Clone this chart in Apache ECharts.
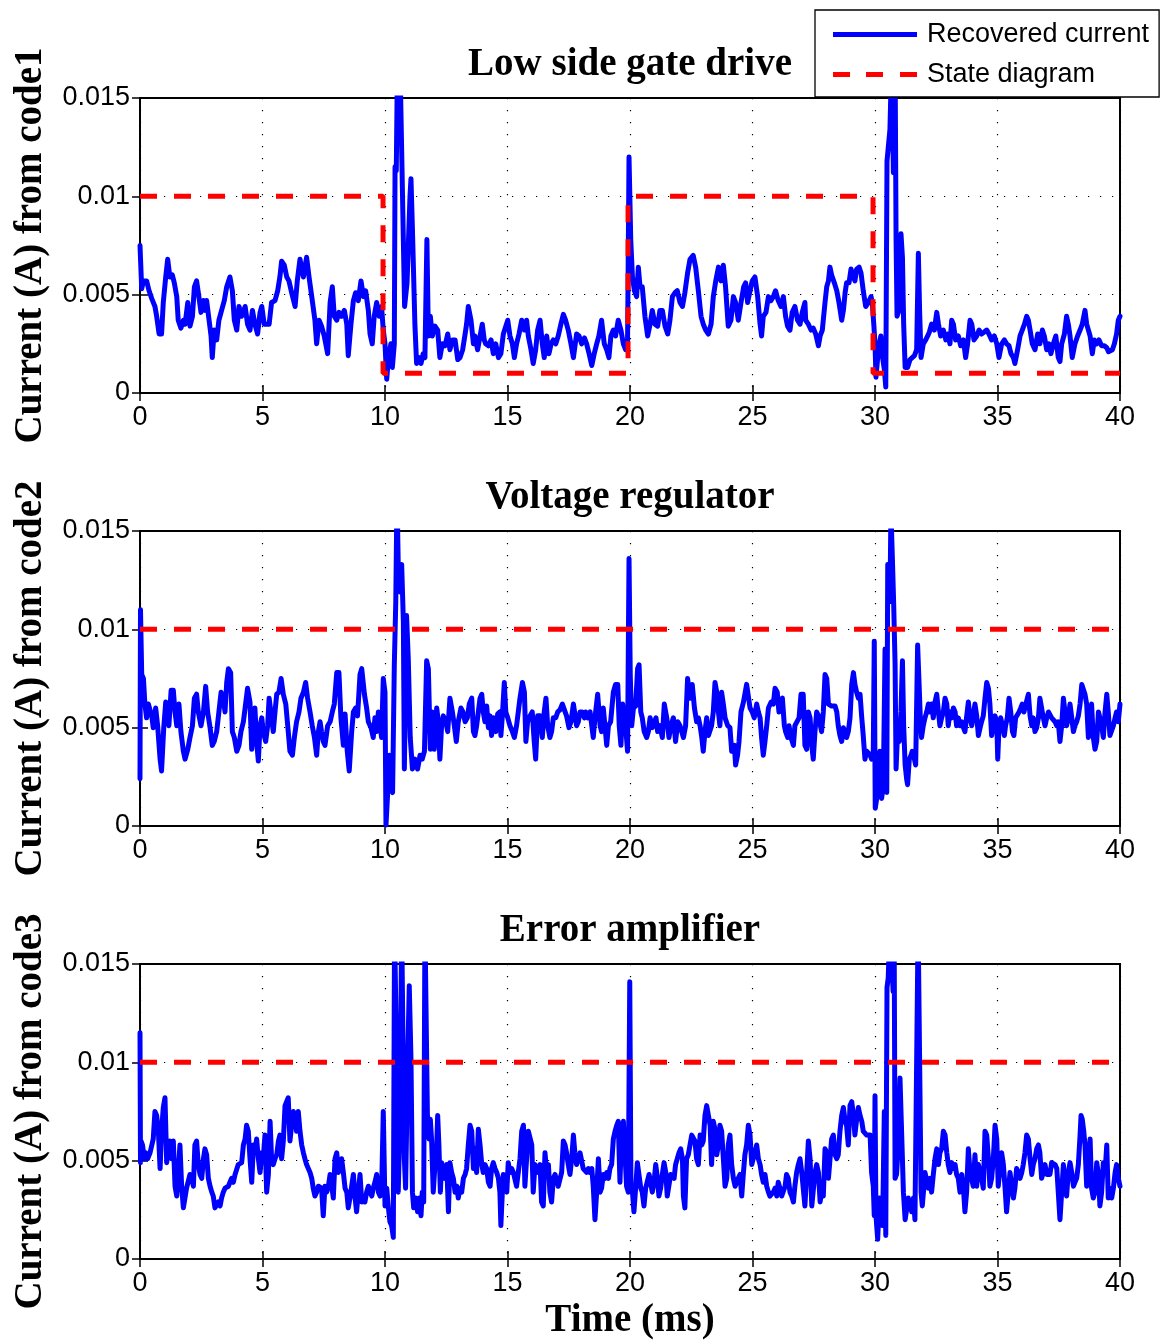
<!DOCTYPE html>
<html>
<head>
<meta charset="utf-8">
<script src="https://cdn.jsdelivr.net/npm/echarts/dist/echarts.min.js"></script>
<style>
  html, body { margin: 0; padding: 0; background: #ffffff; }
  #chart { width: 1166px; height: 1340px; }
</style>
</head>
<body>
<div id="chart"></div>
<script>
// Panel titles and axis labels
const panelTitles = ['Low side gate drive', 'Voltage regulator', 'Error amplifier'];
const currentAxisNames = ['Current (A) from code1', 'Current (A) from code2', 'Current (A) from code3'];
const timeAxisName = 'Time (ms)';
const seriesNames = ['Recovered current', 'State diagram'];

// Axis ranges (ms, A)
const timeRange = [0, 40];
const timeStep = 5;
const currentRange = [0, 0.015];
const currentStep = 0.005;

// Expected on/off state of each circuit block, [time ms, current A]
const stateCode1 = [[0, 0.01], [9.92, 0.01], [9.92, 0.001], [19.92, 0.001], [19.92, 0.01], [29.92, 0.01], [29.92, 0.001], [40, 0.001]];
const stateCode2 = [[0, 0.01], [40, 0.01]];
const stateCode3 = [[0, 0.01], [40, 0.01]];

// Recovered current, code 1 (low side gate drive), [time ms, current A]
const recoveredCode1 = [
[0,.0075],[.07,.0053],[.14,.0057],[.27,.0057],[.37,.0052],[.48,.0048],[.61,.0044],[.68,.0039],[.78,.0030],[.88,.0030],[.95,.0046],[1.05,.0059],[1.13,.0068],[1.22,.0059],[1.32,.0060],[1.40,.0056],[1.50,.0049],[1.56,.0037],[1.67,.0033],[1.77,.0037],[1.84,.0035],[1.95,.0046],[2.04,.0034],[2.14,.0039],[2.22,.0054],[2.31,.0057],[2.38,.0051],[2.49,.0041],[2.59,.0047],[2.65,.0042],[2.72,.0047],[2.82,.0037],[2.90,.0029],[2.95,.0018],[3.03,.0032],[3.13,.0027],[3.22,.0037],[3.33,.0042],[3.44,.0047],[3.54,.0054],[3.67,.0059],[3.77,.0052],[3.85,.0037],[3.95,.0032],[4.04,.0044],[4.15,.0039],[4.29,.0044],[4.39,.0035],[4.49,.0032],[4.59,.0042],[4.69,.0035],[4.80,.0030],[4.90,.0041],[4.97,.0044],[5.07,.0035],[5.17,.0035],[5.27,.0035],[5.37,.0046],[5.51,.0047],[5.62,.0052],[5.71,.0059],[5.78,.0067],[5.89,.0065],[5.99,.0059],[6.08,.0057],[6.19,.0051],[6.33,.0044],[6.42,.0057],[6.53,.0068],[6.67,.0059],[6.80,.0069],[6.90,.0059],[7.01,.0049],[7.14,.0037],[7.21,.0025],[7.31,.0037],[7.41,.0034],[7.52,.0029],[7.66,.0020],[7.76,.0046],[7.85,.0054],[7.93,.0039],[8.03,.0037],[8.12,.0041],[8.23,.0039],[8.34,.0042],[8.44,.0035],[8.50,.0019],[8.61,.0035],[8.71,.0047],[8.80,.0051],[8.91,.0047],[9.02,.0057],[9.12,.0049],[9.21,.0052],[9.32,.0042],[9.39,.0030],[9.48,.0025],[9.56,.0039],[9.66,.0046],[9.76,.0039],[9.86,.0044],[9.93,.0032],[10.0,.0025],[10.07,.0007],[10.14,.0018],[10.24,.0025],[10.30,.0013],[10.38,.0025],[10.41,.0115],[10.46,.0113],[10.51,.017],[10.56,.0129],[10.61,.017],[10.67,.017],[10.80,.0044],[10.90,.0056],[11.02,.0100],[11.06,.0109],[11.12,.0083],[11.22,.0035],[11.29,.0015],[11.39,.0018],[11.47,.0015],[11.56,.0020],[11.63,.0018],[11.71,.0078],[11.77,.0029],[11.85,.0039],[11.93,.0029],[12.04,.0034],[12.15,.0032],[12.24,.0018],[12.34,.0025],[12.45,.0024],[12.56,.0030],[12.65,.0022],[12.75,.0027],[12.86,.0027],[12.97,.0017],[13.06,.0018],[13.17,.0022],[13.27,.0030],[13.33,.0035],[13.40,.0044],[13.51,.0037],[13.61,.0025],
[13.67,.0029],[13.78,.0022],[13.88,.0029],[13.97,.0035],[14.05,.0027],[14.11,.0025],[14.22,.0024],[14.33,.0027],[14.42,.0020],[14.52,.0025],[14.63,.0018],[14.73,.0020],[14.83,.0030],[14.90,.0029],[15.01,.0037],[15.10,.0029],[15.20,.0025],[15.28,.0018],[15.37,.0025],[15.47,.0030],[15.58,.0037],[15.69,.0032],[15.78,.0037],[15.85,.0029],[15.96,.0022],[16.05,.0015],[16.15,.0022],[16.23,.0032],[16.33,.0037],[16.42,.0025],[16.50,.0018],[16.60,.0029],[16.69,.0020],[16.78,.0025],[16.87,.0027],[16.97,.0025],[17.07,.0029],[17.18,.0035],[17.28,.0040],[17.37,.0037],[17.48,.0032],[17.59,.0025],[17.69,.0018],[17.82,.0030],[17.92,.0029],[18.03,.0025],[18.14,.0028],[18.23,.0025],[18.33,.0020],[18.44,.0014],[18.54,.0020],[18.64,.0025],[18.73,.0029],[18.84,.0037],[18.95,.0025],[19.05,.0022],[19.14,.0018],[19.22,.0029],[19.32,.0032],[19.41,.0029],[19.52,.0037],[19.63,.0032],[19.73,.0025],[19.82,.0022],[19.90,.0025],[19.96,.0120],[20.03,.0078],[20.10,.0059],[20.18,.0052],[20.27,.0049],[20.34,.0064],[20.41,.0054],[20.50,.0054],[20.61,.0039],[20.72,.0029],[20.82,.0035],[20.91,.0042],[21.02,.0035],[21.13,.0034],[21.22,.0042],[21.32,.0042],[21.43,.0034],[21.54,.0030],[21.63,.0037],[21.73,.0049],[21.84,.0051],[21.93,.0052],[22.04,.0046],[22.14,.0044],[22.24,.0051],[22.35,.0061],[22.45,.0068],[22.58,.0070],[22.68,.0064],[22.79,.0052],[22.90,.0039],[22.99,.0035],[23.09,.0032],[23.20,.0030],[23.31,.0035],[23.40,.0049],[23.50,.0057],[23.61,.0064],[23.71,.0057],[23.81,.0065],[23.90,.0054],[24.01,.0034],[24.12,.0037],[24.22,.0049],[24.31,.0046],[24.42,.0037],[24.53,.0046],[24.64,.0054],[24.72,.0056],[24.80,.0046],[24.90,.0052],[24.99,.0057],[25.10,.0059],[25.21,.0049],[25.31,.0035],[25.37,.0029],[25.44,.0039],[25.55,.0041],[25.65,.0049],[25.75,.0047],[25.85,.0049],[25.94,.0052],[26.05,.0047],[26.16,.0044],[26.26,.0049],[26.35,.0039],[26.43,.0034],[26.53,.0032],[26.62,.0041],[26.73,.0044],[26.84,.0037],[26.94,.0035],[27.03,.0041],[27.14,.0046],
[27.17,.0037],[27.28,.0035],[27.39,.0032],[27.48,.0033],[27.58,.0030],[27.69,.0024],[27.76,.0029],[27.85,.0032],[27.96,.0046],[28.03,.0054],[28.10,.0057],[28.16,.0064],[28.23,.0060],[28.34,.0056],[28.44,.0052],[28.53,.0046],[28.64,.0037],[28.71,.0042],[28.78,.0051],[28.84,.0056],[28.94,.0056],[29.02,.0063],[29.12,.0059],[29.18,.0057],[29.25,.0063],[29.35,.0064],[29.43,.0061],[29.52,.0052],[29.62,.0044],[29.73,.0046],[29.84,.0049],[29.89,.0046],[29.95,.0035],[30.00,.0025],[30.04,.0008],[30.11,.0018],[30.16,.0024],[30.24,.0029],[30.31,.0018],[30.38,.0012],[30.44,.0003],[30.49,.0118],[30.54,.0117],[30.61,.0134],[30.68,.017],[30.75,.0112],[30.82,.017],[30.86,.0078],[30.90,.0039],[30.98,.0042],[31.06,.0081],[31.12,.0069],[31.17,.0035],[31.23,.0013],[31.33,.0013],[31.43,.0017],[31.52,.0018],[31.61,.0019],[31.70,.0022],[31.77,.0071],[31.82,.0042],[31.88,.0018],[31.97,.0025],[32.07,.0027],[32.15,.0029],[32.22,.0031],[32.31,.0035],[32.42,.0032],[32.52,.0041],[32.59,.0035],[32.68,.0029],[32.79,.0032],[32.89,.0027],[32.97,.0030],[33.06,.0025],[33.13,.0037],[33.20,.0035],[33.29,.0027],[33.40,.0029],[33.50,.0024],[33.61,.0027],[33.70,.0018],[33.78,.0025],[33.88,.0037],[33.95,.0035],[34.04,.0027],[34.15,.0029],[34.25,.0032],[34.35,.0030],[34.46,.0031],[34.56,.0032],[34.65,.0030],[34.76,.0027],[34.87,.0029],[34.97,.0025],[35.06,.0018],[35.17,.0025],[35.28,.0027],[35.37,.0025],[35.47,.0024],[35.55,.0020],[35.65,.0018],[35.71,.0015],[35.82,.0022],[35.92,.0029],[36.01,.0032],[36.10,.0035],[36.19,.0039],[36.26,.0037],[36.33,.0032],[36.42,.0025],[36.53,.0022],[36.64,.0030],[36.73,.0025],[36.83,.0032],[36.91,.0029],[37.01,.0022],[37.10,.0025],[37.18,.0020],[37.28,.0025],[37.38,.0029],[37.48,.0018],[37.55,.0016],[37.62,.0025],[37.73,.0030],[37.82,.0039],[37.89,.0035],[37.96,.0029],[38.05,.0018],[38.16,.0025],[38.27,.0029],[38.37,.0032],[38.46,.0035],[38.57,.0042],[38.64,.0035],[38.71,.0034],[38.78,.0029],[38.87,.0020],[38.95,.0027],[39.05,.0025],[39.14,.0027],[39.25,.0024],[39.36,.0024],[39.46,.0023],[39.53,.0021],[39.61,.0020],[39.69,.0022],[39.77,.0025],[39.86,.0030],[39.93,.0037],[40,.0039]
];

// Recovered current, code 2 (voltage regulator)
const recoveredCode2 = [
[0,.0024],[0.02,.0110],[.07,.0077],[.14,.0075],[.20,.0062],[.27,.0055],[.34,.0062],[.41,.0061],[.48,.0056],[.54,.0050],[.64,.0060],[.72,.0051],[.82,.0034],[.88,.0028],[.97,.0050],[1.05,.0063],[1.13,.0062],[1.18,.0051],[1.27,.0069],[1.36,.0069],[1.43,.0058],[1.50,.0051],[1.59,.0062],[1.67,.0048],[1.77,.0038],[1.84,.0034],[1.95,.0039],[2.04,.0045],[2.14,.0051],[2.22,.0065],[2.31,.0067],[2.38,.0058],[2.49,.0051],[2.59,.0058],[2.68,.0071],[2.76,.0058],[2.86,.0050],[2.95,.0041],[3.03,.0043],[3.13,.0048],[3.22,.0058],[3.31,.0068],[3.40,.0065],[3.47,.0058],[3.54,.0073],[3.61,.0080],[3.70,.0078],[3.77,.0048],[3.85,.0045],[3.95,.0038],[4.04,.0041],[4.12,.0048],[4.22,.0053],[4.31,.0062],[4.39,.0070],[4.49,.0063],[4.56,.0039],[4.63,.0051],[4.69,.0060],[4.76,.0043],[4.83,.0033],[4.90,.0051],[4.97,.0055],[5.03,.0048],[5.13,.0043],[5.21,.0051],[5.27,.0065],[5.35,.0065],[5.44,.0048],[5.51,.0058],[5.58,.0067],[5.67,.0068],[5.76,.0075],[5.85,.0067],[5.95,.0062],[6.03,.0051],[6.12,.0038],[6.22,.0036],[6.30,.0045],[6.39,.0053],[6.49,.0058],[6.57,.0065],[6.67,.0068],[6.76,.0073],[6.84,.0065],[6.94,.0058],[7.03,.0051],[7.12,.0045],[7.21,.0036],[7.28,.0048],[7.35,.0053],[7.41,.0048],[7.48,.0043],[7.55,.0041],[7.66,.0051],[7.76,.0053],[7.85,.0058],[7.93,.0062],[8.03,.0078],[8.12,.0078],[8.20,.0055],[8.30,.0041],[8.37,.0057],[8.46,.0038],[8.54,.0028],[8.64,.0048],[8.71,.0058],[8.80,.0060],[8.88,.0056],[8.98,.0077],[9.05,.0080],[9.16,.0067],[9.25,.0060],[9.32,.0053],[9.43,.0050],[9.52,.0045],[9.59,.0055],[9.66,.0048],[9.73,.0058],[9.80,.0051],[9.86,.0045],[9.93,.0075],[10.00,.0068],[10.04,.00005],[10.11,.0017],[10.18,.0036],[10.24,.0019],[10.31,.0017],[10.38,.0082],[10.44,.0114],[10.49,.017],[10.54,.0133],[10.61,.0119],[10.68,.0133],[10.75,.0104],[10.79,.0029],[10.88,.0107],[10.95,.0085],[11.03,.0045],[11.12,.0029],[11.22,.0034],[11.33,.0029],[11.43,.0036],[11.52,.0034],[11.61,.0038],[11.70,.0084],[11.77,.0080],[11.85,.0039],[11.93,.0058],[12.01,.0039],[12.11,.0060],[12.18,.0053],[12.24,.0034],[12.31,.0051],[12.38,.0056],[12.48,.0053],[12.56,.0048],[12.65,.0065],[12.75,.0058],[12.83,.0051],[12.91,.0043],[12.99,.0053],[13.10,.0060],[13.18,.0058],[13.27,.0053],[13.36,.0055],[13.44,.0062],[13.54,.0065],[13.61,.0048],
[13.67,.0046],[13.74,.0051],[13.81,.0058],[13.88,.0065],[13.95,.0067],[14.01,.0058],[14.08,.0053],[14.15,.0061],[14.22,.0050],[14.29,.0056],[14.35,.0046],[14.42,.0055],[14.52,.0048],[14.60,.0057],[14.69,.0058],[14.73,.0046],[14.79,.0056],[14.87,.0073],[14.93,.0058],[15.01,.0055],[15.10,.0051],[15.20,.0048],[15.28,.0045],[15.37,.0051],[15.44,.0058],[15.51,.0065],[15.61,.0073],[15.69,.0068],[15.75,.0043],[15.82,.0053],[15.92,.0056],[16.01,.0058],[16.09,.0043],[16.15,.0034],[16.23,.0056],[16.33,.0056],[16.42,.0045],[16.50,.0058],[16.57,.0065],[16.64,.0051],[16.73,.0045],[16.80,.0048],[16.87,.0055],[16.97,.0055],[17.05,.0058],[17.14,.0059],[17.24,.0062],[17.32,.0063],[17.41,.0056],[17.51,.0050],[17.59,.0053],[17.69,.0062],[17.75,.0062],[17.82,.0051],[17.89,.0053],[17.96,.0058],[18.05,.0058],[18.14,.0055],[18.19,.0058],[18.27,.0055],[18.37,.0058],[18.44,.0051],[18.50,.0045],[18.57,.0055],[18.68,.0067],[18.78,.0051],[18.84,.0048],[18.91,.0060],[18.98,.0060],[19.05,.0041],[19.12,.0051],[19.21,.0053],[19.32,.0068],[19.41,.0072],[19.50,.0072],[19.56,.0051],[19.63,.0041],[19.70,.0062],[19.77,.0063],[19.82,.0051],[19.90,.0038],[19.96,.0136],[20.01,.0077],[20.07,.0051],[20.14,.0060],[20.23,.0061],[20.31,.0080],[20.37,.0082],[20.44,.0058],[20.50,.0055],[20.58,.0048],[20.68,.0045],[20.75,.0048],[20.82,.0055],[20.91,.0050],[20.99,.0051],[21.06,.0055],[21.13,.0048],[21.22,.0051],[21.32,.0045],[21.40,.0062],[21.50,.0055],[21.59,.0045],[21.67,.0051],[21.77,.0055],[21.86,.0043],[21.95,.0053],[22.04,.0051],[22.11,.0048],[22.18,.0045],[22.27,.0051],[22.35,.0075],[22.45,.0065],[22.54,.0072],[22.63,.0060],[22.72,.0053],[22.79,.0055],[22.86,.0051],[22.93,.0045],[22.99,.0038],[23.06,.0048],[23.13,.0055],[23.20,.0046],[23.26,.0045],[23.33,.0051],[23.40,.0058],[23.47,.0073],[23.54,.0068],[23.61,.0058],[23.67,.0051],[23.74,.0068],[23.81,.0062],[23.88,.0055],[23.99,.0051],[24.08,.0050],[24.15,.0038],[24.26,.0041],[24.31,.0031],[24.39,.0036],[24.45,.0043],[24.53,.0058],[24.63,.0063],[24.69,.0062],[24.76,.0072],[24.83,.0072],[24.90,.0060],[24.99,.0058],[25.07,.0055],[25.17,.0062],[25.24,.0058],[25.31,.0055],[25.37,.0045],[25.44,.0036],[25.51,.0043],[25.58,.0051],[25.65,.0060],[25.76,.0063],[25.85,.0062],[25.92,.0070],[26.01,.0068],[26.08,.0058],[26.16,.0063],[26.22,.0065],[26.30,.0051],[26.35,.0048],[26.44,.0045],[26.49,.0051],[26.57,.0045],[26.67,.0041],[26.73,.0051],[26.80,.0051],[26.90,.0055],[26.98,.0067],[27.07,.0067],[27.14,.0041],
[27.21,.0039],[27.28,.0058],[27.35,.0055],[27.42,.0041],[27.48,.0034],[27.55,.0048],[27.62,.0058],[27.69,.0056],[27.76,.0055],[27.82,.0048],[27.89,.0058],[27.96,.0077],[28.03,.0075],[28.10,.0062],[28.16,.0063],[28.23,.0061],[28.30,.0061],[28.37,.0061],[28.44,.0058],[28.50,.0051],[28.57,.0046],[28.64,.0043],[28.71,.0050],[28.78,.0050],[28.84,.0045],[28.91,.0048],[28.98,.0055],[29.05,.0072],[29.12,.0078],[29.18,.0072],[29.25,.0068],[29.32,.0065],[29.39,.0067],[29.46,.0055],[29.52,.0046],[29.59,.0034],[29.66,.0038],[29.73,.0039],[29.80,.0036],[29.86,.0034],[29.93,.0038],[29.97,.0094],[30.01,.0009],[30.07,.0014],[30.14,.0023],[30.20,.0038],[30.27,.0014],[30.34,.0021],[30.41,.0090],[30.48,.0017],[30.52,.0133],[30.57,.0131],[30.61,.0114],[30.65,.016],[30.71,.0136],[30.76,.0114],[30.82,.0082],[30.86,.0029],[30.93,.0050],[30.99,.0043],[31.06,.0058],[31.12,.0084],[31.17,.0051],[31.23,.0031],[31.29,.0024],[31.33,.0021],[31.40,.0034],[31.47,.0036],[31.52,.0038],[31.61,.0034],[31.66,.0031],[31.74,.0092],[31.80,.0072],[31.85,.0055],[31.90,.0045],[31.97,.0051],[32.04,.0055],[32.11,.0058],[32.18,.0062],[32.25,.0058],[32.31,.0062],[32.38,.0055],[32.45,.0063],[32.52,.0067],[32.59,.0058],[32.65,.0051],[32.72,.0055],[32.79,.0058],[32.86,.0065],[32.93,.0062],[32.99,.0051],[33.06,.0058],[33.13,.0055],[33.20,.0060],[33.27,.0058],[33.33,.0051],[33.40,.0055],[33.47,.0051],[33.54,.0053],[33.61,.0050],[33.67,.0048],[33.74,.0048],[33.81,.0063],[33.88,.0055],[33.95,.0051],[34.01,.0056],[34.08,.0062],[34.15,.0056],[34.22,.0046],[34.29,.0050],[34.35,.0053],[34.42,.0056],[34.49,.0065],[34.56,.0073],[34.63,.0070],[34.69,.0062],[34.76,.0046],[34.83,.0045],[34.90,.0056],[34.97,.0053],[35.01,.0034],[35.06,.0050],[35.13,.0055],[35.20,.0051],[35.28,.0046],[35.33,.0051],[35.40,.0055],[35.47,.0065],[35.54,.0058],[35.61,.0048],[35.67,.0046],[35.74,.0055],[35.81,.0056],[35.88,.0058],[35.95,.0060],[36.01,.0062],[36.08,.0058],[36.15,.0058],[36.22,.0065],[36.26,.0067],[36.33,.0056],[36.40,.0051],[36.46,.0055],[36.53,.0048],[36.60,.0050],[36.67,.0055],[36.73,.0065],[36.80,.0065],[36.87,.0055],[36.94,.0051],[37.01,.0055],[37.08,.0058],[37.14,.0058],[37.21,.0055],[37.28,.0055],[37.35,.0053],[37.42,.0051],[37.48,.0053],[37.55,.0043],[37.62,.0051],[37.69,.0065],[37.76,.0065],[37.82,.0051],[37.89,.0055],[37.96,.0062],[38.03,.0055],[38.10,.0048],[38.16,.0051],[38.23,.0053],[38.30,.0056],[38.37,.0062],[38.44,.0072],[38.50,.0073],[38.57,.0067],[38.64,.0062],[38.71,.0045],[38.78,.0051],[38.84,.0062],[38.91,.0045],[38.98,.0039],[39.05,.0043],[39.12,.0058],[39.18,.0055],[39.25,.0051],[39.32,.0045],[39.39,.0058],[39.46,.0067],[39.52,.0058],[39.59,.0046],[39.66,.0046],[39.73,.0051],[39.80,.0055],[39.86,.0058],[39.93,.0053],[40,.0062]
];

// Recovered current, code 3 (error amplifier)
const recoveredCode3 = [
[0,.0115],[.02,.0049],[.04,.0060],[.10,.0058],[.18,.0051],[.23,.0054],[.31,.0051],[.41,.0054],[.48,.0053],[.54,.0061],[.61,.0075],[.68,.0073],[.75,.0065],[.82,.0046],[.88,.0065],[.95,.0077],[1.02,.0082],[1.09,.0049],[1.16,.0058],[1.22,.0060],[1.29,.0051],[1.36,.0060],[1.43,.0037],[1.50,.0032],[1.56,.0044],[1.63,.0058],[1.70,.0037],[1.77,.0026],[1.84,.0026],[1.90,.0036],[1.97,.0037],[2.04,.0043],[2.11,.0041],[2.18,.0037],[2.24,.0058],[2.31,.0060],[2.38,.0048],[2.45,.0043],[2.52,.0041],[2.59,.0051],[2.65,.0056],[2.72,.0053],[2.79,.0041],[2.86,.0037],[2.93,.0034],[2.99,.0032],[3.06,.0026],[3.13,.0027],[3.20,.0029],[3.27,.0027],[3.33,.0031],[3.40,.0034],[3.47,.0036],[3.61,.0037],[3.67,.0039],[3.74,.0041],[3.81,.0039],[3.88,.0043],[3.95,.0044],[4.01,.0048],[4.08,.0048],[4.15,.0049],[4.22,.0058],[4.29,.0061],[4.35,.0068],[4.42,.0065],[4.49,.0051],[4.56,.0039],[4.63,.0058],[4.69,.0054],[4.76,.0061],[4.83,.0051],[4.90,.0044],[4.97,.0054],[5.03,.0051],[5.10,.0063],[5.17,.0034],[5.24,.0043],[5.31,.0070],[5.37,.0051],[5.44,.0048],[5.51,.0051],[5.58,.0053],[5.65,.0060],[5.71,.0063],[5.78,.0051],[5.85,.0060],[5.92,.0078],[5.99,.0078],[6.05,.0082],[6.12,.0060],[6.19,.0068],[6.26,.0075],[6.33,.0073],[6.39,.0065],[6.46,.0075],[6.53,.0065],[6.60,.0058],[6.67,.0054],[6.73,.0051],[6.80,.0048],[6.87,.0046],[6.94,.0044],[7.01,.0041],[7.07,.0036],[7.14,.0032],[7.21,.0034],[7.28,.0037],[7.35,.0037],[7.41,.0036],[7.48,.0022],[7.55,.0037],[7.62,.0034],[7.69,.0037],[7.76,.0043],[7.82,.0043],[7.89,.0031],[7.96,.0051],[8.03,.0054],[8.10,.0044],[8.16,.0043],[8.23,.0051],[8.30,.0044],[8.37,.0036],[8.44,.0034],[8.50,.0026],[8.57,.0031],[8.64,.0037],[8.71,.0043],[8.78,.0031],[8.84,.0024],[8.91,.0034],[8.98,.0043],[9.05,.0029],[9.12,.0032],[9.18,.0029],[9.25,.0034],[9.32,.0037],[9.39,.0034],[9.46,.0032],[9.52,.0036],[9.59,.0039],[9.66,.0043],[9.73,.0034],[9.80,.0032],[9.86,.0034],[9.93,.0075],[10.00,.0027],[10.07,.0036],[10.14,.0026],[10.20,.0019],[10.27,.0017],[10.34,.0011],[10.39,.017],[10.45,.017],[10.49,.0085],[10.54,.0034],[10.61,.0068],[10.68,.017],[10.75,.017],[10.79,.0051],[10.84,.0036],[10.93,.0102],[10.99,.0139],[11.06,.0102],[11.12,.0034],[11.17,.0026],[11.25,.0031],[11.33,.0024],[11.40,.0031],[11.47,.0022],[11.52,.0034],[11.58,.0029],[11.63,.017],[11.70,.017],[11.74,.0065],[11.80,.0061],[11.85,.0071],[11.90,.0061],[11.97,.0034],[12.04,.0048],[12.11,.0058],[12.15,.0073],[12.20,.0058],[12.26,.0034],[12.31,.0049],[12.38,.0048],[12.45,.0041],[12.52,.0048],[12.59,.0024],[12.65,.0049],[12.72,.0044],[12.79,.0041],[12.86,.0034],[12.93,.0037],[12.99,.0031],[13.06,.0036],[13.13,.0034],[13.20,.0041],[13.27,.0043],[13.33,.0046],[13.40,.0058],[13.47,.0068],[13.54,.0065],[13.61,.0046],
[13.67,.0056],[13.74,.0044],[13.81,.0066],[13.88,.0058],[13.95,.0048],[14.01,.0044],[14.08,.0048],[14.15,.0046],[14.22,.0039],[14.29,.0037],[14.35,.0046],[14.42,.0049],[14.49,.0046],[14.56,.0044],[14.63,.0041],[14.69,.0034],[14.73,.0017],[14.79,.0034],[14.83,.0043],[14.90,.0044],[14.97,.0034],[15.03,.0049],[15.10,.0044],[15.17,.0046],[15.24,.0044],[15.31,.0043],[15.37,.0037],[15.44,.0036],[15.51,.0051],[15.58,.0065],[15.65,.0068],[15.71,.0037],[15.78,.0051],[15.85,.0065],[15.92,.0066],[15.99,.0058],[16.05,.0034],[16.12,.0048],[16.19,.0048],[16.26,.0044],[16.33,.0048],[16.39,.0029],[16.46,.0027],[16.53,.0054],[16.60,.0044],[16.67,.0048],[16.73,.0034],[16.80,.0029],[16.87,.0041],[16.94,.0043],[17.01,.0043],[17.07,.0037],[17.14,.0036],[17.21,.0044],[17.28,.0060],[17.35,.0058],[17.41,.0054],[17.48,.0048],[17.55,.0043],[17.62,.0051],[17.69,.0063],[17.75,.0054],[17.82,.0048],[17.89,.0051],[17.96,.0054],[18.03,.0054],[18.09,.0046],[18.16,.0046],[18.23,.0044],[18.30,.0046],[18.37,.0044],[18.44,.0046],[18.50,.0037],[18.57,.0020],[18.64,.0034],[18.71,.0051],[18.78,.0034],[18.84,.0036],[18.91,.0043],[18.98,.0041],[19.05,.0044],[19.12,.0041],[19.18,.0046],[19.25,.0048],[19.32,.0061],[19.39,.0065],[19.46,.0068],[19.52,.0070],[19.59,.0039],[19.66,.0065],[19.73,.0070],[19.80,.0071],[19.86,.0037],[19.93,.0034],[19.99,.0141],[20.04,.0034],[20.09,.0036],[20.16,.0024],[20.23,.0036],[20.30,.0049],[20.37,.0048],[20.44,.0036],[20.50,.0034],[20.57,.0027],[20.64,.0036],[20.71,.0037],[20.78,.0043],[20.84,.0044],[20.91,.0034],[20.98,.0039],[21.05,.0048],[21.12,.0041],[21.18,.0032],[21.25,.0036],[21.32,.0043],[21.39,.0049],[21.46,.0044],[21.52,.0032],[21.59,.0032],[21.66,.0043],[21.73,.0044],[21.80,.0041],[21.86,.0048],[21.93,.0051],[22.00,.0054],[22.07,.0056],[22.14,.0051],[22.18,.0032],[22.24,.0026],[22.31,.0051],[22.38,.0053],[22.45,.0054],[22.52,.0063],[22.58,.0063],[22.65,.0060],[22.72,.0051],[22.79,.0048],[22.86,.0063],[22.93,.0058],[22.99,.0060],[23.06,.0073],[23.13,.0078],[23.20,.0077],[23.27,.0068],[23.33,.0048],[23.40,.0070],[23.47,.0066],[23.54,.0053],[23.61,.0058],[23.67,.0068],[23.74,.0065],[23.81,.0051],[23.88,.0037],[23.95,.0041],[24.01,.0058],[24.08,.0063],[24.15,.0048],[24.22,.0041],[24.29,.0037],[24.35,.0037],[24.42,.0041],[24.49,.0043],[24.56,.0032],[24.63,.0044],[24.69,.0053],[24.76,.0058],[24.83,.0068],[24.90,.0063],[24.97,.0048],[25.03,.0051],[25.10,.0054],[25.17,.0058],[25.24,.0051],[25.31,.0048],[25.37,.0043],[25.44,.0039],[25.51,.0043],[25.58,.0037],[25.65,.0034],[25.71,.0032],[25.78,.0031],[25.85,.0034],[25.92,.0036],[25.99,.0032],[26.05,.0039],[26.12,.0036],[26.19,.0032],[26.26,.0032],[26.33,.0037],[26.39,.0043],[26.46,.0041],[26.53,.0034],[26.60,.0032],[26.67,.0029],[26.73,.0037],[26.80,.0044],[26.87,.0048],[26.94,.0051],[27.01,.0044],[27.08,.0044],[27.14,.0027],
[27.21,.0027],[27.28,.0060],[27.35,.0051],[27.42,.0027],[27.48,.0027],[27.55,.0044],[27.62,.0048],[27.69,.0044],[27.76,.0029],[27.82,.0034],[27.89,.0032],[27.96,.0056],[28.03,.0054],[28.10,.0041],[28.16,.0041],[28.23,.0061],[28.30,.0063],[28.37,.0053],[28.44,.0051],[28.50,.0053],[28.57,.0065],[28.64,.0073],[28.71,.0077],[28.78,.0070],[28.84,.0068],[28.91,.0058],[28.98,.0078],[29.05,.0080],[29.12,.0073],[29.18,.0063],[29.25,.0071],[29.32,.0077],[29.39,.0073],[29.46,.0070],[29.52,.0065],[29.59,.0065],[29.66,.0063],[29.73,.0063],[29.80,.0063],[29.86,.0044],[29.93,.0037],[29.97,.0022],[30.00,.0083],[30.04,.0022],[30.11,.0010],[30.18,.0031],[30.25,.0020],[30.31,.0017],[30.38,.0075],[30.44,.0012],[30.49,.0138],[30.54,.0143],[30.61,.017],[30.68,.017],[30.74,.0136],[30.78,.017],[30.82,.0041],[30.88,.0043],[30.95,.0058],[31.02,.0092],[31.09,.0092],[31.16,.0034],[31.23,.0020],[31.29,.0020],[31.36,.0031],[31.43,.0032],[31.50,.0024],[31.57,.0031],[31.63,.0020],[31.70,.0019],[31.76,.017],[31.81,.017],[31.88,.0034],[31.93,.0027],[31.99,.0036],[32.04,.0044],[32.11,.0043],[32.18,.0036],[32.25,.0041],[32.31,.0034],[32.38,.0043],[32.45,.0051],[32.52,.0056],[32.59,.0048],[32.65,.0054],[32.72,.0056],[32.79,.0065],[32.86,.0063],[32.93,.0054],[32.99,.0048],[33.06,.0044],[33.13,.0049],[33.20,.0046],[33.27,.0048],[33.33,.0043],[33.40,.0041],[33.47,.0034],[33.54,.0043],[33.61,.0036],[33.67,.0024],[33.74,.0034],[33.81,.0056],[33.88,.0044],[33.95,.0043],[34.01,.0037],[34.08,.0053],[34.15,.0037],[34.22,.0048],[34.29,.0049],[34.35,.0041],[34.42,.0036],[34.49,.0065],[34.56,.0063],[34.63,.0051],[34.69,.0037],[34.76,.0041],[34.83,.0051],[34.90,.0068],[34.97,.0061],[35.03,.0037],[35.10,.0037],[35.17,.0054],[35.24,.0048],[35.31,.0036],[35.37,.0024],[35.44,.0034],[35.51,.0044],[35.58,.0037],[35.65,.0031],[35.71,.0036],[35.78,.0046],[35.85,.0044],[35.92,.0041],[35.99,.0044],[36.05,.0048],[36.12,.0054],[36.19,.0063],[36.26,.0061],[36.33,.0051],[36.40,.0043],[36.46,.0048],[36.53,.0051],[36.60,.0056],[36.67,.0058],[36.73,.0054],[36.80,.0041],[36.87,.0044],[36.94,.0048],[37.01,.0043],[37.08,.0044],[37.14,.0043],[37.21,.0049],[37.28,.0049],[37.35,.0048],[37.42,.0046],[37.48,.0034],[37.55,.0020],[37.62,.0034],[37.69,.0048],[37.76,.0037],[37.82,.0032],[37.89,.0044],[37.96,.0049],[38.03,.0044],[38.10,.0037],[38.16,.0039],[38.23,.0041],[38.30,.0048],[38.37,.0063],[38.41,.0073],[38.46,.0071],[38.52,.0065],[38.57,.0058],[38.64,.0037],[38.71,.0051],[38.78,.0061],[38.84,.0036],[38.91,.0031],[38.98,.0034],[39.05,.0049],[39.12,.0043],[39.18,.0027],[39.25,.0034],[39.32,.0049],[39.39,.0044],[39.46,.0058],[39.52,.0031],[39.59,.0036],[39.66,.0031],[39.73,.0036],[39.80,.0044],[39.86,.0048],[39.93,.0041],[40,.0037]
];

const recovered = [recoveredCode1, recoveredCode2, recoveredCode3];
const states = [stateCode1, stateCode2, stateCode3];

// Layout of the three stacked panels
const panelTops = [98, 531, 964];
const panelHeight = 295;
const panelLeft = 140;
const panelWidth = 980;

const sansFont = '"Liberation Sans", Arial, Helvetica, sans-serif';
const serifFont = '"Liberation Serif", "Times New Roman", serif';
const gridDots = { color: '#000', width: 1.2, type: [1.2, 10.8] };
const tickStyle = { color: '#000', width: 1.5 };
const labelFontSize = 27;
const headingFontSize = 39;

const grids = [], xAxes = [], yAxes = [], series = [], graphics = [];

panelTops.forEach((top, i) => {
  grids.push({
    left: panelLeft, top: top, width: panelWidth, height: panelHeight,
    show: true, borderColor: '#000', borderWidth: 2, backgroundColor: '#fff',
    containLabel: false, outerBoundsMode: 'none'
  });
  // bottom time axis with labels and grid lines
  xAxes.push({
    type: 'value', gridIndex: i, position: 'bottom',
    min: timeRange[0], max: timeRange[1], interval: timeStep,
    axisLine: { show: false },
    axisTick: { show: true, inside: true, length: 8, lineStyle: tickStyle },
    axisLabel: { color: '#000', fontSize: labelFontSize, fontFamily: sansFont, margin: 11 },
    splitLine: { show: true, lineStyle: gridDots },
    name: i === 2 ? timeAxisName : '',
    nameLocation: 'middle', nameGap: 42,
    nameTextStyle: { color: '#000', fontFamily: serifFont, fontWeight: 'bold', fontSize: headingFontSize }
  });
  // top time axis carrying only ticks
  xAxes.push({
    type: 'value', gridIndex: i, position: 'top',
    min: timeRange[0], max: timeRange[1], interval: timeStep,
    axisLine: { show: false },
    axisTick: { show: true, inside: true, length: 8, lineStyle: tickStyle },
    axisLabel: { show: false }, splitLine: { show: false }
  });
  // left current axis with labels and grid lines
  yAxes.push({
    type: 'value', gridIndex: i, position: 'left',
    min: currentRange[0], max: currentRange[1], interval: currentStep,
    axisLine: { show: false },
    axisTick: { show: true, inside: true, length: 8, lineStyle: tickStyle },
    axisLabel: { color: '#000', fontSize: labelFontSize, fontFamily: sansFont, margin: 10 },
    splitLine: { show: true, lineStyle: gridDots },
    name: currentAxisNames[i], nameLocation: 'middle', nameGap: 90, nameRotate: 90,
    nameTextStyle: { color: '#000', fontFamily: serifFont, fontWeight: 'bold', fontSize: headingFontSize }
  });
  // right current axis carrying only ticks
  yAxes.push({
    type: 'value', gridIndex: i, position: 'right',
    min: currentRange[0], max: currentRange[1], interval: currentStep,
    axisLine: { show: false },
    axisTick: { show: true, inside: true, length: 8, lineStyle: tickStyle },
    axisLabel: { show: false }, splitLine: { show: false }
  });

  series.push({
    name: seriesNames[0], type: 'line',
    xAxisIndex: 2 * i, yAxisIndex: 2 * i,
    data: recovered[i], symbol: 'none', showSymbol: false, clip: true, z: 3,
    itemStyle: { color: '#0000ff' },
    lineStyle: { color: '#0000ff', width: 5, join: 'round', cap: 'round' }
  });
  series.push({
    name: seriesNames[1], type: 'line',
    xAxisIndex: 2 * i, yAxisIndex: 2 * i,
    data: states[i], symbol: 'none', showSymbol: false, clip: true, z: 4,
    itemStyle: { color: '#ff0000' },
    lineStyle: { color: '#ff0000', width: 5, type: [17, 17] }
  });

  graphics.push({
    type: 'text', x: panelLeft + panelWidth / 2, y: top - 33, z: 10,
    style: {
      text: panelTitles[i], fill: '#000',
      font: 'bold ' + headingFontSize + 'px ' + serifFont,
      textAlign: 'center', textVerticalAlign: 'middle'
    }
  });
});

const chart = echarts.init(document.getElementById('chart'), null, { renderer: 'canvas' });
chart.setOption({
  animation: false,
  backgroundColor: '#fff',
  grid: grids,
  xAxis: xAxes,
  yAxis: yAxes,
  series: series,
  graphic: graphics,
  legend: {
    data: [
      { name: seriesNames[0], icon: 'path://M0,0h84v5h-84z' },
      { name: seriesNames[1], icon: 'path://M0,0h17v5h-17zM33,0h17v5h-17zM67,0h17v5h-17z' }
    ],
    orient: 'vertical',
    left: 815, top: 10,
    backgroundColor: '#fff', borderColor: '#000', borderWidth: 1.3, borderRadius: 0,
    padding: [11, 10, 9, 18], itemGap: 13,
    itemWidth: 84, itemHeight: 5,
    textStyle: { color: '#000', fontSize: 27, fontFamily: sansFont, padding: [0, 0, 0, 5] },
    selectedMode: false
  }
});
</script>
</body>
</html>
